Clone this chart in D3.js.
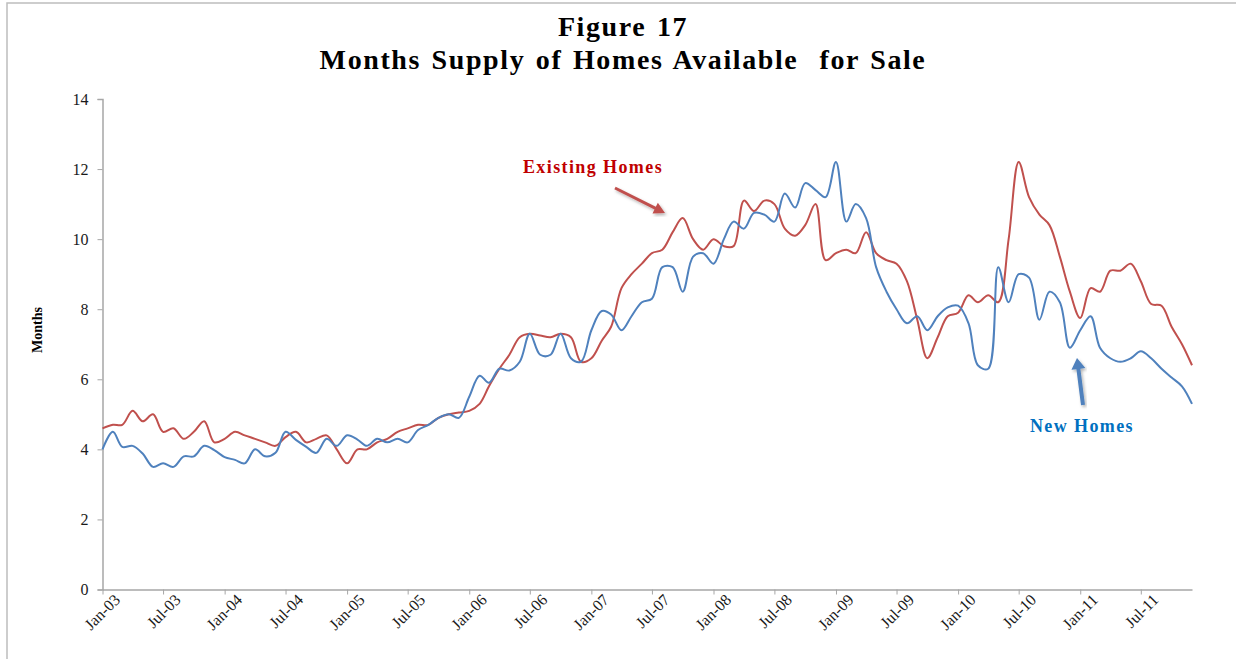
<html>
<script src="https://d3js.org/d3.v7.min.js"></script>
<style>
    body { margin: 0; background: #fff; }
    text { font-family: "Liberation Serif", "Times New Roman", serif; }
    .axis path, .axis line { stroke: #a6a6a6; }
    .axis text { fill: #1a1a1a; }
</style>
<body>
<svg id="chart" width=1236 height=659></svg>
<script>
// monthly data, Jan-03 .. Dec-11
var startMonth = "2003-01";
var existingHomes = [
    4.6, 4.7, 4.7, 5.1, 4.8, 5.0, 4.5, 4.6, 4.3, 4.5, 4.8, 4.2,
    4.3, 4.5, 4.4, 4.3, 4.2, 4.1, 4.35, 4.5, 4.2, 4.3, 4.4, 4.0,
    3.6, 4.0, 4.0, 4.2, 4.3, 4.5, 4.6, 4.7, 4.7, 4.9, 5.0, 5.05,
    5.1, 5.3, 5.8, 6.3, 6.7, 7.2, 7.3, 7.25, 7.2, 7.3, 7.2, 6.5,
    6.6, 7.1, 7.5, 8.6, 9.0, 9.3, 9.6, 9.7, 10.2, 10.6, 10.0, 9.7,
    10.0, 9.8, 9.8, 11.1, 10.8, 11.1, 11.0, 10.3, 10.1, 10.4, 11.0, 9.4,
    9.6, 9.7, 9.6, 10.2, 9.6, 9.4, 9.3, 8.8, 7.7, 6.6, 7.2, 7.8,
    7.9, 8.4, 8.2, 8.4, 8.2, 10.0, 12.2, 11.2, 10.7, 10.4, 9.5, 8.5,
    7.75, 8.6, 8.5, 9.1, 9.1, 9.3, 8.8, 8.15, 8.1, 7.5, 7.0, 6.4
];
var newHomes = [
    4.0, 4.5, 4.07, 4.1, 3.88, 3.5, 3.6, 3.5, 3.8, 3.8, 4.1, 3.98,
    3.78, 3.7, 3.6, 4.0, 3.8, 3.9, 4.5, 4.27, 4.07, 3.9, 4.3, 4.1,
    4.4, 4.28, 4.1, 4.3, 4.2, 4.3, 4.2, 4.55, 4.7, 4.9, 5.0, 4.9,
    5.5, 6.1, 5.9, 6.3, 6.25, 6.5, 7.3, 6.7, 6.7, 7.3, 6.6, 6.5,
    7.4, 7.95, 7.85, 7.4, 7.8, 8.2, 8.3, 9.2, 9.2, 8.5, 9.5, 9.6,
    9.3, 10.0, 10.5, 10.3, 10.75, 10.7, 10.5, 11.3, 10.9, 11.6, 11.4, 11.2,
    12.2, 10.5, 11.0, 10.6, 9.2, 8.5, 8.0, 7.6, 7.8, 7.4, 7.8, 8.05,
    8.1, 7.6, 6.4, 6.3, 9.2, 8.2, 9.0, 8.9, 7.7, 8.5, 8.2, 6.9,
    7.4, 7.8, 6.9, 6.6, 6.5, 6.6, 6.8, 6.6, 6.3, 6.05, 5.8, 5.3
];
var yTicks = [0, 2, 4, 6, 8, 10, 12, 14];

var parseMonth = d3.timeParse("%Y-%m");
var t0 = parseMonth(startMonth);
var months = existingHomes.map(function(d, i) { return d3.timeMonth.offset(t0, i); });

var svg = d3.select("#chart");

// frame
svg.append("rect")
    .attr("x", 7).attr("y", 3)
    .attr("width", 1300).attr("height", 700)
    .attr("fill", "none")
    .attr("stroke", "#bdbdbd")
    .attr("stroke-width", 1.5);

var x = d3.scaleTime()
    .domain([t0, months[months.length - 1]])
    .range([102.5, 1192]);
var y = d3.scaleLinear().domain([0, 14]).range([589.5, 99]);

// title
svg.append("text")
    .attr("x", 623).attr("y", 36)
    .attr("text-anchor", "middle")
    .style("font-size", "28px").style("font-weight", "bold")
    .style("letter-spacing", "1.6px").style("word-spacing", "2px")
    .text("Figure 17");
svg.append("text")
    .attr("x", 623).attr("y", 69)
    .attr("text-anchor", "middle")
    .style("font-size", "28px").style("font-weight", "bold")
    .style("letter-spacing", "1.6px").style("word-spacing", "2px")
    .style("white-space", "pre")
    .text("Months Supply of Homes Available  for Sale");

// y axis
var yAxis = svg.append("g")
    .attr("class", "axis")
    .attr("transform", "translate(102.5,0)")
    .call(d3.axisLeft(y).tickValues(yTicks).tickSize(5).tickPadding(9));
yAxis.selectAll("text").style("font-size", "16px");
yAxis.select(".domain").attr("stroke-width", 1.5);

svg.append("text")
    .attr("transform", "translate(42,330) rotate(-90)")
    .attr("text-anchor", "middle")
    .style("font-size", "14px").style("font-weight", "bold")
    .text("Months");

// x axis
var xAxis = svg.append("g")
    .attr("class", "axis")
    .attr("transform", "translate(0,589.5)")
    .call(d3.axisBottom(x)
        .ticks(d3.timeMonth.every(6))
        .tickFormat(d3.timeFormat("%b-%y"))
        .tickSize(5).tickSizeOuter(0));
xAxis.select(".domain").attr("stroke-width", 1.5);
xAxis.selectAll("text")
    .style("font-size", "16px")
    .attr("text-anchor", "end")
    .attr("dx", "0.3em").attr("dy", "0.8em")
    .attr("transform", "rotate(-45)");

// lines
var line = d3.line()
    .x(function(d, i) { return x(months[i]); })
    .y(function(d) { return y(d); })
    .curve(d3.curveCatmullRom.alpha(0.5));

svg.append("path")
    .datum(existingHomes)
    .attr("d", line)
    .attr("fill", "none")
    .attr("stroke", "#c0504d")
    .attr("stroke-width", 2);

svg.append("path")
    .datum(newHomes)
    .attr("d", line)
    .attr("fill", "none")
    .attr("stroke", "#4f81bd")
    .attr("stroke-width", 2);

// annotations
svg.append("defs").append("filter").attr("id", "shadow")
    .append("feDropShadow")
    .attr("dx", 1.5).attr("dy", 2).attr("stdDeviation", 1.5)
    .attr("flood-color", "#000").attr("flood-opacity", 0.3);

// block arrow outline from (x1,y1) to tip (x2,y2)
function arrowPath(x1, y1, x2, y2, shaftW, headW, headL) {
    var dx = x2 - x1, dy = y2 - y1, len = Math.sqrt(dx * dx + dy * dy);
    var ux = dx / len, uy = dy / len, px = -uy, py = ux;
    var bx = x2 - ux * headL, by = y2 - uy * headL;
    var pts = [
        [x1 + px * shaftW / 2, y1 + py * shaftW / 2],
        [bx + px * shaftW / 2, by + py * shaftW / 2],
        [bx + px * headW / 2, by + py * headW / 2],
        [x2, y2],
        [bx - px * headW / 2, by - py * headW / 2],
        [bx - px * shaftW / 2, by - py * shaftW / 2],
        [x1 - px * shaftW / 2, y1 - py * shaftW / 2]
    ];
    return "M" + pts.map(function(p) { return p.join(","); }).join("L") + "Z";
}

svg.append("text")
    .attr("x", 593).attr("y", 173)
    .attr("text-anchor", "middle")
    .style("font-size", "18px").style("font-weight", "bold")
    .style("letter-spacing", "1.4px")
    .attr("fill", "#c00000")
    .text("Existing Homes");
svg.append("path")
    .attr("d", arrowPath(615, 188, 665, 213, 3, 12, 11))
    .attr("fill", "#c0504d")
    .attr("filter", "url(#shadow)");

svg.append("text")
    .attr("x", 1082).attr("y", 432)
    .attr("text-anchor", "middle")
    .style("font-size", "18px").style("font-weight", "bold")
    .style("letter-spacing", "1.4px")
    .attr("fill", "#0070c0")
    .text("New Homes");
svg.append("path")
    .attr("d", arrowPath(1083, 405, 1077, 358, 4, 14, 11))
    .attr("fill", "#4f81bd")
    .attr("filter", "url(#shadow)");
</script>
</body>
</html>
